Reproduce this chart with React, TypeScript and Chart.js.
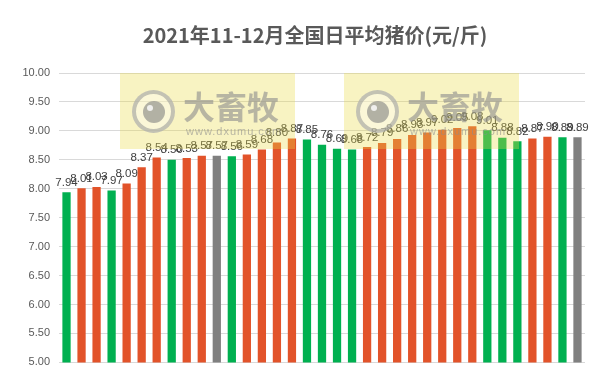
import React, { useEffect, useRef } from 'react';
import { Chart, registerables } from 'chart.js';

Chart.register(...registerables);

const chartTitle = '2021年11-12月全国日平均猪价(元/斤)';
const days = [
  '1', '2', '3', '4', '5', '6', '7', '8', '9', '10',
  '11', '12', '13', '14', '15', '16', '17', '18', '19', '20',
  '21', '22', '23', '24', '25', '26', '27', '28', '29', '30',
  '31', '32', '33', '34', '35',
];
const prices = [
  7.94, 8.01, 8.03, 7.97, 8.09, 8.37, 8.54, 8.50, 8.53, 8.57,
  8.57, 8.56, 8.59, 8.68, 8.80, 8.87, 8.85, 8.76, 8.69, 8.68,
  8.72, 8.79, 8.86, 8.93, 8.97, 9.02, 9.05, 9.08, 9.01, 8.88,
  8.82, 8.87, 8.90, 8.89, 8.89,
];
// u = up (orange), d = down (green), f = flat (gray)
const trend = [
  'd', 'u', 'u', 'd', 'u', 'u', 'u', 'd', 'u', 'u',
  'f', 'd', 'u', 'u', 'u', 'u', 'd', 'd', 'd', 'd',
  'u', 'u', 'u', 'u', 'u', 'u', 'u', 'u', 'd', 'd',
  'd', 'u', 'u', 'd', 'f',
];
const yTicks = [5, 5.5, 6, 6.5, 7, 7.5, 8, 8.5, 9, 9.5, 10];

const trendColors: Record<string, string> = {
  u: '#E2532A',
  d: '#00B050',
  f: '#808080',
};

const Watermark = ({ left }: { left: number }) => (
  <div
    style={{
      position: 'absolute',
      left,
      top: 73,
      width: 175,
      height: 76,
      background: 'rgba(235,220,70,0.33)',
      pointerEvents: 'none',
      overflow: 'hidden',
    }}
  >
    <div
      style={{
        position: 'absolute',
        left: 12,
        top: 17,
        width: 35,
        height: 35,
        borderRadius: '50%',
        border: '4px solid rgba(150,150,150,0.55)',
        background: 'rgba(255,255,255,0.35)',
      }}
    >
      <div
        style={{
          position: 'absolute',
          left: 7,
          top: 7,
          width: 22,
          height: 22,
          borderRadius: '50%',
          background: 'rgba(130,130,130,0.6)',
        }}
      >
        <div
          style={{
            position: 'absolute',
            left: 4,
            top: 4,
            width: 6,
            height: 6,
            borderRadius: '50%',
            background: 'rgba(255,255,255,0.8)',
          }}
        />
      </div>
    </div>
    <div
      style={{
        position: 'absolute',
        left: 63,
        top: 12,
        fontFamily: '"Noto Sans CJK SC", sans-serif',
        fontWeight: 'bold',
        fontSize: 32,
        lineHeight: '40px',
        color: 'rgba(140,140,140,0.6)',
        whiteSpace: 'nowrap',
      }}
    >
      大畜牧
    </div>
    <div
      style={{
        position: 'absolute',
        left: 66,
        top: 51,
        fontFamily: '"Liberation Sans", sans-serif',
        fontSize: 11,
        lineHeight: '14px',
        letterSpacing: 1,
        color: 'rgba(140,140,140,0.6)',
        whiteSpace: 'nowrap',
      }}
    >
      www.dxumu.com
    </div>
  </div>
);

export default function App() {
  const canvasRef = useRef<HTMLCanvasElement | null>(null);

  useEffect(() => {
    const canvas = canvasRef.current;
    if (!canvas) return;

    const labelPlugin = {
      id: 'valueLabels',
      afterDatasetsDraw(chart: any) {
        const ctx = chart.ctx;
        const meta = chart.getDatasetMeta(0);
        ctx.save();
        ctx.font = '11.5px "Liberation Sans", sans-serif';
        ctx.fillStyle = '#404040';
        ctx.textAlign = 'center';
        ctx.textBaseline = 'bottom';
        meta.data.forEach((el: any, i: number) => {
          ctx.fillText(prices[i].toFixed(2), el.x, el.y - 4);
        });
        ctx.restore();
      },
    };

    const titlePlugin = {
      id: 'customTitle',
      afterDraw(chart: any) {
        const ctx = chart.ctx;
        ctx.save();
        ctx.font = 'bold 20px "Noto Sans CJK SC", sans-serif';
        ctx.fillStyle = '#595959';
        ctx.textAlign = 'center';
        ctx.textBaseline = 'middle';
        ctx.fillText(chartTitle, 315, 35);
        ctx.restore();
      },
    };

    const chart = new Chart(canvas, {
      type: 'bar',
      data: {
        labels: days,
        datasets: [
          {
            data: prices,
            backgroundColor: trend.map((t) => trendColors[t]),
            categoryPercentage: 1,
            barPercentage: 0.55,
          },
        ],
      },
      options: {
        animation: false,
        responsive: true,
        maintainAspectRatio: false,
        layout: { padding: { top: 73, bottom: 6, left: 0, right: 27 } },
        plugins: {
          legend: { display: false },
          tooltip: { enabled: false },
          title: { display: false },
        },
        scales: {
          x: {
            grid: { display: false },
            border: { display: false },
            ticks: { display: false },
          },
          y: {
            min: 5,
            max: 10,
            afterBuildTicks(scale: any) {
              scale.ticks = yTicks.map((v) => ({ value: v }));
            },
            afterFit(scale: any) {
              scale.width = 59;
            },
            ticks: {
              padding: 9,
              color: '#595959',
              font: { size: 11, family: '"Liberation Sans", sans-serif' },
              callback: (v: any) => Number(v).toFixed(2),
            },
            grid: { color: '#D9D9D9', drawTicks: false },
            border: { display: false },
          },
        },
      },
      plugins: [labelPlugin, titlePlugin],
    });

    return () => chart.destroy();
  }, []);

  return (
    <div
      style={{
        position: 'fixed',
        left: 0,
        top: 0,
        width: 612,
        height: 378,
        background: '#fff',
      }}
    >
      <canvas ref={canvasRef} />
      <Watermark left={120} />
      <Watermark left={344} />
    </div>
  );
}
